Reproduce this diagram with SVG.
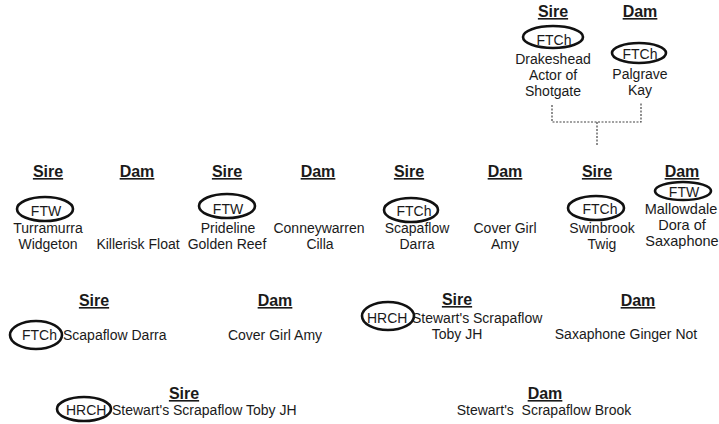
<svg xmlns="http://www.w3.org/2000/svg" width="719" height="424" viewBox="0 0 719 424">
<style>
text{font-family:"Liberation Sans",Arial,sans-serif;font-size:14px;fill:#1a1a1a}
.h{font-weight:bold;font-size:16px;text-decoration:underline;text-anchor:middle}
.c{text-anchor:middle}
.big{font-size:14.5px}
.ring{fill:none;stroke:#111;stroke-width:2.6}
.conn{fill:none;stroke:#444;stroke-width:1.2;stroke-dasharray:2 1.5}
</style>
<rect width="719" height="424" fill="#fff"/>
<g id="connectors">
<path class="conn" d="M552 105V122H641V103"/>
<path class="conn" d="M597 122V146"/>
</g>
<g id="top-sire">
<text class="h" x="553" y="17">Sire</text>
<ellipse class="ring" cx="553" cy="37" rx="30" ry="11"/>
<text class="c" x="554" y="45">FTCh</text>
<text class="c" x="553" y="64">Drakeshead</text>
<text class="c" x="553" y="80">Actor of</text>
<text class="c" x="553" y="96">Shotgate</text>
</g>
<g id="top-dam">
<text class="h" x="640" y="17">Dam</text>
<ellipse class="ring" cx="639" cy="53" rx="27" ry="10"/>
<text class="c" x="640" y="59">FTCh</text>
<text class="c" x="640" y="79">Palgrave</text>
<text class="c" x="640" y="95">Kay</text>
</g>
<g id="r2-sire1">
<text class="h" x="48" y="177">Sire</text>
<ellipse class="ring" cx="45" cy="209" rx="28" ry="12"/>
<text class="c" x="46" y="216">FTW</text>
<text class="c" x="48" y="233">Turramurra</text>
<text class="c" x="48" y="249">Widgeton</text>
</g>
<g id="r2-dam1">
<text class="h" x="137" y="177">Dam</text>
<text class="c" x="138" y="249">Killerisk Float</text>
</g>
<g id="r2-sire2">
<text class="h" x="227" y="177">Sire</text>
<ellipse class="ring" cx="227" cy="206" rx="28" ry="12"/>
<text class="c" x="228" y="214">FTW</text>
<text class="c" x="228" y="233">Prideline</text>
<text class="c" x="227" y="249">Golden Reef</text>
</g>
<g id="r2-dam2">
<text class="h" x="318" y="177">Dam</text>
<text class="c" x="319" y="233">Conneywarren</text>
<text class="c" x="320" y="249">Cilla</text>
</g>
<g id="r2-sire3">
<text class="h" x="409" y="177">Sire</text>
<ellipse class="ring" cx="411" cy="210" rx="27" ry="12"/>
<text class="c" x="414" y="216">FTCh</text>
<text class="c" x="417" y="233">Scapaflow</text>
<text class="c" x="417" y="249">Darra</text>
</g>
<g id="r2-dam3">
<text class="h" x="505" y="177">Dam</text>
<text class="c" x="505" y="233">Cover Girl</text>
<text class="c" x="505" y="249">Amy</text>
</g>
<g id="r2-sire4">
<text class="h" x="597" y="177">Sire</text>
<ellipse class="ring" cx="596" cy="208" rx="28" ry="12"/>
<text class="c" x="600" y="214">FTCh</text>
<text class="c" x="602" y="233">Swinbrook</text>
<text class="c" x="602" y="249">Twig</text>
</g>
<g id="r2-dam4">
<text class="h" x="682" y="177">Dam</text>
<ellipse class="ring" cx="683" cy="191" rx="28" ry="9"/>
<text class="c" x="684" y="197">FTW</text>
<text class="c big" x="681" y="214">Mallowdale</text>
<text class="c big" x="682" y="230">Dora of</text>
<text class="c big" x="682" y="246">Saxaphone</text>
</g>
<g id="r3-sire1">
<text class="h" x="94" y="306">Sire</text>
<ellipse class="ring" cx="36" cy="335" rx="26" ry="14"/>
<text x="22" y="340">FTCh</text>
<text x="63" y="340">Scapaflow Darra</text>
</g>
<g id="r3-dam1">
<text class="h" x="275" y="306">Dam</text>
<text class="c" x="275" y="340">Cover Girl Amy</text>
</g>
<g id="r3-sire2">
<text class="h" x="457" y="305">Sire</text>
<ellipse class="ring" cx="388" cy="316" rx="26" ry="14"/>
<text x="367" y="323">HRCH</text>
<text x="412" y="323">Stewart's Scrapaflow</text>
<text class="c" x="457" y="339">Toby JH</text>
</g>
<g id="r3-dam2">
<text class="h" x="638" y="306">Dam</text>
<text class="c" x="626" y="339">Saxaphone Ginger Not</text>
</g>
<g id="r4-sire">
<text class="h" x="184" y="399">Sire</text>
<ellipse class="ring" cx="84" cy="409" rx="27" ry="12"/>
<text x="66" y="415">HRCH</text>
<text x="112" y="415">Stewart's Scrapaflow Toby JH</text>
</g>
<g id="r4-dam">
<text class="h" x="545" y="399">Dam</text>
<text class="c" x="544" y="415" xml:space="preserve">Stewart's  Scrapaflow Brook</text>
</g>
</svg>
